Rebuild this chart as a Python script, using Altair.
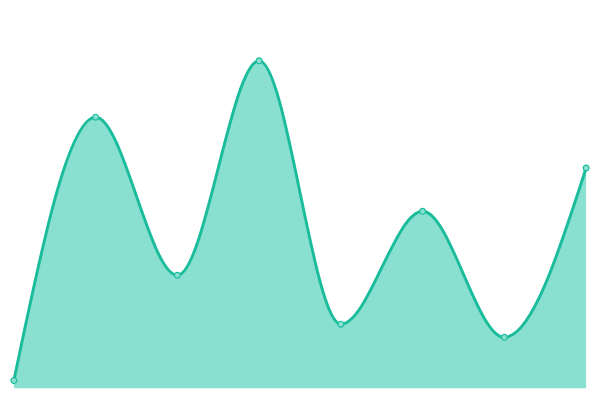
import altair as alt
import pandas as pd

categories = [0, 1, 2, 3, 4, 5, 6, 7]
values = [2, 72, 30, 87, 17, 47, 13.5, 58.5]

df = pd.DataFrame({"x": categories, "y": values})

xs = alt.X("x:Q", scale=alt.Scale(domain=[0, 7], nice=False, zero=False), axis=None)
ys = alt.Y("y:Q", scale=alt.Scale(domain=[0, 100], nice=False), axis=None)

base = alt.Chart(df).encode(x=xs, y=ys)

area = base.mark_area(interpolate="monotone", color="#8ae0d0", opacity=1)
line = base.mark_line(interpolate="monotone", color="#1abc9c", strokeWidth=3)
pts = base.mark_point(filled=True, size=36, fill="#8ae0d0", stroke="#1abc9c", strokeWidth=1.2, opacity=1)

chart = (area + line + pts).properties(
    width=584, height=384, padding=0
).configure_view(stroke=None)

chart.save("out.html", embed_options={"renderer": "svg", "actions": False})
